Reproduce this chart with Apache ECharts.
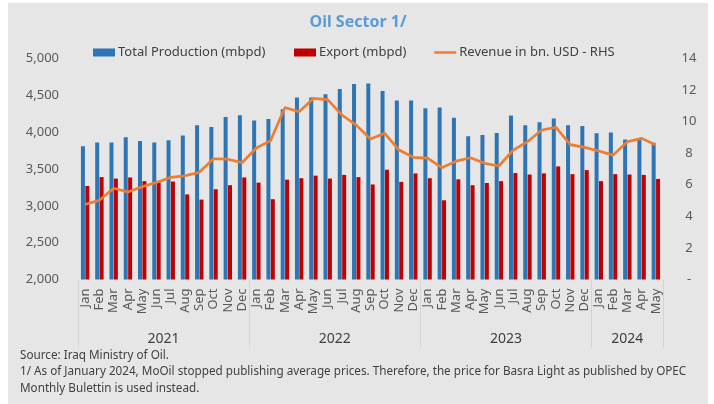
<!DOCTYPE html>
<html>
<head>
<meta charset="utf-8">
<script src="https://cdn.jsdelivr.net/npm/echarts@6/dist/echarts.min.js"></script>
<style>
  html, body { margin: 0; padding: 0; background: #fff; }
  #main {
    position: absolute;
    left: 8px;
    top: 3px;
    width: 700px;
    height: 401px;
    background: #e7e6e6;
  }
</style>
</head>
<body>
<div id="main"></div>
<script>
// categories
var monthNames = ['Jan', 'Feb', 'Mar', 'Apr', 'May', 'Jun', 'Jul', 'Aug', 'Sep', 'Oct', 'Nov', 'Dec']
var years = ['2021', '2022', '2023', '2024']
var monthsPerYear = [12, 12, 12, 5]

// series values
var production = [
  3810, 3860, 3860, 3930, 3880, 3860, 3890, 3955, 4095, 4070, 4205, 4230,
  4160, 4180, 4310, 4470, 4470, 4515, 4585, 4655, 4660, 4560, 4430, 4430,
  4325, 4335, 4195, 3945, 3960, 3990, 4225, 4095, 4135, 4185, 4095, 4085,
  3985, 3995, 3900, 3895, 3855
]
var exportVol = [
  3270, 3390, 3370, 3385, 3335, 3315, 3330, 3155, 3085, 3225, 3280, 3385,
  3315, 3090, 3355, 3375, 3410, 3370, 3420, 3390, 3290, 3490, 3325, 3440,
  3375, 3075, 3360, 3280, 3310, 3335, 3445, 3425, 3440, 3535, 3430, 3485,
  3335, 3430, 3425, 3420, 3365
]
var revenue = [
  4.76, 5.02, 5.78, 5.54, 5.88, 6.15, 6.47, 6.57, 6.79, 7.65, 7.62, 7.40,
  8.33, 8.80, 10.90, 10.63, 11.47, 11.39, 10.42, 9.78, 8.90, 9.26, 8.20, 7.74,
  7.69, 7.08, 7.50, 7.71, 7.36, 7.19, 8.20, 8.73, 9.47, 9.64, 8.54, 8.37,
  8.14, 7.88, 8.73, 8.94, 8.52
]

var footnotes = [
  'Source: Iraq Ministry of Oil.',
  '1/ As of January 2024, MoOil stopped publishing average prices. Therefore, the price for Basra Light as published by OPEC',
  'Monthly Bulettin is used instead.'
]

// build category list and year boundaries
var categories = []
var boundaries = [0]
var yearCenters = []
years.forEach(function (y, i) {
  var start = boundaries[boundaries.length - 1]
  for (var m = 0; m < monthsPerYear[i]; m++) categories.push(monthNames[m])
  boundaries.push(start + monthsPerYear[i])
  yearCenters.push(start + monthsPerYear[i] / 2)
})

var font = 'Noto Sans'
var textColor = '#595959'

var chart = echarts.init(document.getElementById('main'))
var legendBase = {
  orient: 'horizontal',
  top: 41.5,
  padding: 0,
  itemWidth: 22,
  itemHeight: 8,
  itemGap: 0,
  textStyle: { fontFamily: font, fontSize: 13, color: '#404040', lineHeight: 16, padding: [0, 0, 0, -2] }
}
var option = {
  animation: false,
  textStyle: { fontFamily: font },
  title: {
    text: 'Oil Sector 1/',
    left: 'center',
    top: 6,
    textStyle: { fontFamily: font, fontSize: 16, fontWeight: 'bold', color: '#5b9bd5' }
  },
  legend: [
    Object.assign({}, legendBase, { left: 85, data: [{ name: 'Total Production (mbpd)', icon: 'rect' }] }),
    Object.assign({}, legendBase, { left: 286, data: [{ name: 'Export (mbpd)', icon: 'rect' }] }),
    Object.assign({}, legendBase, {
      left: 425,
      itemStyle: { opacity: 0 },
      lineStyle: { color: '#ed7d31', width: 2.5, opacity: 1 },
      data: ['Revenue in bn. USD - RHS']
    })
  ],
  grid: { left: 70, right: 45, top: 55.5, bottom: 124.5 },
  xAxis: [{
    type: 'category',
    data: categories,
    axisLine: { show: false },
    axisTick: { show: false },
    axisLabel: {
      interval: 0,
      rotate: 90,
      margin: 9,
      fontFamily: font,
      fontSize: 13,
      color: textColor
    }
  }, {
    type: 'value',
    min: 0,
    max: categories.length,
    position: 'bottom',
    axisLine: { show: false },
    splitLine: { show: false },
    axisTick: {
      show: true,
      customValues: boundaries,
      length: 68,
      lineStyle: { color: '#d4d4d4', width: 1 }
    },
    axisLabel: {
      customValues: yearCenters,
      margin: 53,
      fontFamily: font,
      fontSize: 14,
      color: '#404040',
      formatter: function (v) {
        var i = yearCenters.indexOf(v)
        return i >= 0 ? years[i] : ''
      }
    }
  }],
  yAxis: [{
    type: 'value',
    min: 2000,
    max: 5000,
    interval: 500,
    axisLine: { show: false },
    axisTick: { show: false },
    splitLine: { show: false },
    axisLabel: {
      margin: 19,
      fontFamily: font,
      fontSize: 13,
      color: textColor,
      formatter: function (v) { return v.toLocaleString('en-US') }
    }
  }, {
    type: 'value',
    min: 0,
    max: 14,
    interval: 2,
    position: 'right',
    axisLine: { show: false },
    axisTick: { show: false },
    splitLine: { show: false },
    axisLabel: {
      margin: 26,
      align: 'center',
      fontFamily: font,
      fontSize: 13,
      color: textColor,
      formatter: function (v) { return v === 0 ? '-' : String(v) }
    }
  }],
  series: [{
    name: 'Total Production (mbpd)',
    type: 'bar',
    barWidth: 4,
    barGap: '10%',
    itemStyle: { color: '#2e75b6' },
    data: production
  }, {
    name: 'Export (mbpd)',
    type: 'bar',
    barWidth: 4,
    barGap: '10%',
    itemStyle: { color: '#c00000' },
    data: exportVol
  }, {
    name: 'Revenue in bn. USD - RHS',
    type: 'line',
    yAxisIndex: 1,
    symbol: 'none',
    lineStyle: { color: '#ed7d31', width: 2.7 },
    itemStyle: { color: '#ed7d31' },
    data: revenue
  }],
  graphic: [{
    type: 'text',
    left: 12,
    top: 344,
    style: {
      text: footnotes.join('\n'),
      font: '11.7px "Noto Sans"',
      lineHeight: 16.5,
      fill: '#404040'
    }
  }]
}
chart.setOption(option)
window.onresize = chart.resize
</script>
</body>
</html>
